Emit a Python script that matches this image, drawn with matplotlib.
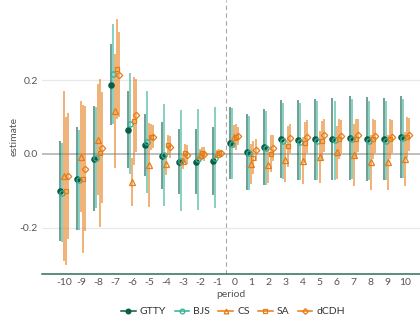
import numpy as np
import matplotlib
matplotlib.use("Agg")
import matplotlib.pyplot as plt
from matplotlib.lines import Line2D

plt.rcParams['font.family'] = ['Lato', 'DejaVu Sans']

periods = list(range(-10, 11))

# point estimates and 95% half-widths per estimator
gtty_est = [-0.100, -0.067, -0.013, 0.187, 0.066, 0.023, -0.005, -0.021, -0.021, -0.019,
            0.030, 0.005, 0.018, 0.040, 0.037, 0.039, 0.041, 0.044, 0.040, 0.040, 0.046]
gtty_ci = [0.135, 0.140, 0.142, 0.110, 0.105, 0.084, 0.090, 0.088, 0.089, 0.092,
           0.098, 0.103, 0.103, 0.106, 0.108, 0.110, 0.111, 0.114, 0.113, 0.112, 0.112]

bjs_est = [-0.105, -0.070, -0.010, 0.217, 0.082, 0.032, -0.004, -0.018, -0.015, -0.010,
           0.028, 0.003, 0.015, 0.035, 0.033, 0.036, 0.037, 0.040, 0.036, 0.036, 0.042]
bjs_ci = [0.135, 0.135, 0.137, 0.135, 0.137, 0.138, 0.138, 0.137, 0.137, 0.137,
          0.097, 0.100, 0.100, 0.102, 0.104, 0.106, 0.107, 0.108, 0.108, 0.108, 0.108]

cs_est = [-0.060, -0.008, 0.038, 0.116, -0.077, -0.030, -0.027, -0.020, -0.003, 0.000,
          0.047, -0.028, -0.030, -0.016, -0.018, -0.009, 0.004, -0.003, -0.023, -0.023, -0.014]
cs_ci = [0.230, 0.150, 0.150, 0.155, 0.065, 0.113, 0.030, 0.020, 0.015, 0.010,
         0.030, 0.055, 0.050, 0.060, 0.065, 0.070, 0.072, 0.085, 0.075, 0.075, 0.072]

sa_est = [-0.100, -0.068, 0.003, 0.230, 0.089, 0.045, 0.023, 0.003, 0.001, 0.003,
          0.045, -0.010, 0.000, 0.020, 0.030, 0.035, 0.040, 0.040, 0.040, 0.040, 0.045]
sa_ci = [0.200, 0.200, 0.200, 0.135, 0.120, 0.035, 0.027, 0.025, 0.018, 0.010,
         0.035, 0.045, 0.050, 0.055, 0.055, 0.055, 0.055, 0.055, 0.055, 0.055, 0.055]

dcdh_est = [-0.060, -0.040, 0.017, 0.215, 0.104, 0.047, 0.019, -0.002, 0.000, 0.001,
            0.048, 0.010, 0.015, 0.042, 0.046, 0.050, 0.048, 0.050, 0.048, 0.046, 0.052]
dcdh_ci = [0.170, 0.170, 0.150, 0.115, 0.100, 0.030, 0.030, 0.025, 0.018, 0.010,
           0.025, 0.030, 0.035, 0.040, 0.045, 0.045, 0.045, 0.045, 0.045, 0.045, 0.045]

estimators = ['GTTY', 'BJS', 'CS', 'SA', 'dCDH']
estimates = [gtty_est, bjs_est, cs_est, sa_est, dcdh_est]
halfwidths = [gtty_ci, bjs_ci, cs_ci, sa_ci, dcdh_ci]

colors = {'GTTY': '#0a5c48', 'BJS': '#34b096', 'CS': '#e57c17', 'SA': '#e57c17', 'dCDH': '#e57c17'}
markers = {'GTTY': 'o', 'BJS': 'o', 'CS': '^', 'SA': 's', 'dCDH': 'D'}
filled = {'GTTY': True, 'BJS': False, 'CS': False, 'SA': False, 'dCDH': False}
msize = {'GTTY': 3.8, 'BJS': 3.8, 'CS': 3.8, 'SA': 3.4, 'dCDH': 3.3}

fig = plt.figure(figsize=(4.2, 3.24), dpi=100)
ax = fig.add_axes([0.1, 0.155, 0.9, 0.845])

# reference lines
ax.axhline(0, color='#b9b9b9', lw=1.3, zorder=1)
for yv in [-0.2, 0.2]:
    ax.axhline(yv, color='#e6e9e8', lw=0.9, zorder=0)
ax.axvline(-0.5, color='#a8a8a8', lw=0.8, ls=(0, (4, 3)), zorder=1)

step = 0.12
x0 = np.array(periods, dtype=float)
for i, name in enumerate(estimators):
    xs = x0 + (i - 2) * step
    est = np.array(estimates[i])
    hw = np.array(halfwidths[i])
    c = colors[name]
    ax.vlines(xs, est - hw, est + hw, color=c, lw=1.1, alpha=0.75, zorder=2)
    ax.plot(xs, est, ls='none', marker=markers[name], ms=msize[name],
            mfc=c if filled[name] else 'none', mec=c, mew=0.9, zorder=3)

ax.set_xlim(-11.3, 10.9)
ax.set_ylim(-0.325, 0.417)
ax.set_xticks(periods)
ax.set_xticklabels([str(p) for p in periods])
ax.set_yticks([-0.2, 0.0, 0.2])
ax.set_yticklabels(['-0.2', '0.0', '0.2'])
ax.tick_params(axis='both', length=0, labelsize=7.5, labelcolor='#555555', pad=3)
for s in ['top', 'right', 'left']:
    ax.spines[s].set_visible(False)
ax.spines['bottom'].set_color('#2f6e5e')
ax.spines['bottom'].set_linewidth(1.1)
ax.set_xlabel('period', fontsize=7.5, color='#555555', labelpad=2)
ax.set_ylabel('estimate', fontsize=7.5, color='#555555', labelpad=1)

handles = [Line2D([0], [0], color=colors[n], lw=1.1, marker=markers[n], ms=msize[n] - 0.4,
                  mfc=colors[n] if filled[n] else 'none', mec=colors[n], mew=0.9)
           for n in estimators]
fig.legend(handles, estimators, loc='lower center', bbox_to_anchor=(0.555, -0.005), ncol=5,
           frameon=False, fontsize=7.5, handlelength=1.4, handletextpad=0.4, columnspacing=0.8,
           labelcolor='#333333')

fig.savefig('out.png', dpi=100)
